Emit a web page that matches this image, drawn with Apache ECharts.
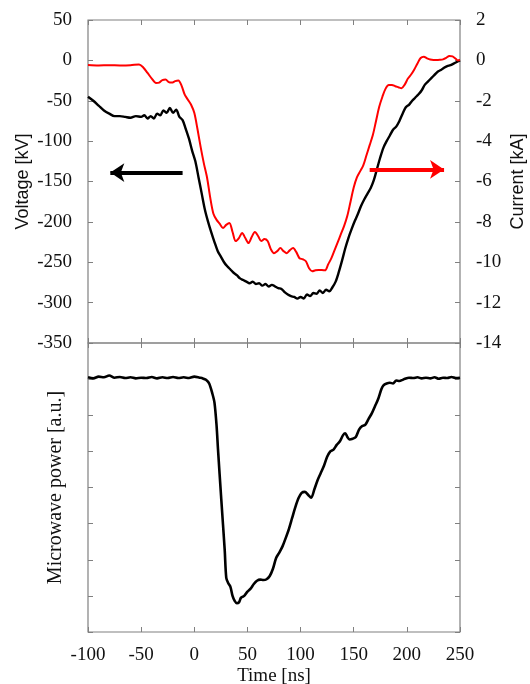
<!DOCTYPE html>
<html>
<head>
<meta charset="utf-8">
<script src="https://cdn.jsdelivr.net/npm/echarts@6/dist/echarts.min.js"></script>
<style>html,body{margin:0;padding:0;background:#fff}#c{width:530px;height:684px}</style>
</head>
<body>
<div id="c"></div>
<script>
// Time axis ticks
var timeTicks = [-100, -50, 0, 50, 100, 150, 200, 250];

// Voltage [kV] (black), time in ns
var voltageT = [-100,-95,-90,-85,-80,-75,-70,-65,-60,-55,-50,-47,-44,-41,-38,-35,-32,-29,-26,-23,-20,-17,-14,-11,-8,-5,-2,1,4,7,10,13,16,19,22,25,28,31,34,37,40,43,46,49,52,55,58,61,64,67,70,73,76,79,82,85,88,91,94,97,100,103,106,109,112,115,118,121,124,127,130,133,136,139,142,145,148,151,154,157,160,163,166,169,172,175,178,181,184,187,190,193,196,199,202,205,208,211,214,217,220,223,226,229,232,235,238,241,244,247,250];
var voltageV = [-45,-50,-56,-62,-66,-69,-69,-70,-71,-69,-70,-68,-72,-69,-72,-66,-68,-62,-65,-59,-65,-61,-70,-74,-85,-97,-112,-125,-145,-165,-185,-200,-213,-225,-236,-243,-250,-255,-259,-263,-266,-270,-272,-274,-276,-274,-277,-276,-279,-277,-280,-278,-280,-282,-283,-287,-290,-292,-293,-295,-293,-295,-290,-292,-288,-289,-285,-288,-284,-286,-281,-274,-262,-248,-233,-220,-209,-199,-190,-180,-172,-165,-158,-148,-134,-120,-108,-100,-93,-86,-82,-75,-66,-58,-55,-50,-46,-42,-37,-30,-26,-22,-18,-14,-12,-9,-7,-6,-4,-2,0];

// Current [kA] (red)
var currentT = [-100,-90,-80,-70,-60,-52,-48,-44,-40,-36,-33,-30,-27,-24,-21,-18,-15,-12,-9,-6,-3,0,3,6,9,12,15,18,21,24,27,30,33,36,39,42,45,48,51,54,57,60,63,66,69,72,75,78,81,84,87,90,93,96,99,102,105,108,111,114,117,120,123,126,129,132,135,138,141,144,147,150,153,156,159,162,165,168,171,174,177,180,183,186,189,192,195,198,201,204,207,210,213,216,219,222,225,228,231,234,237,240,243,246,248,250];
var currentI = [-0.23,-0.25,-0.24,-0.25,-0.24,-0.2,-0.35,-0.62,-0.9,-1.12,-1.1,-0.98,-0.95,-1.08,-1.1,-1.03,-1.0,-1.25,-1.7,-1.95,-2.2,-2.6,-3.4,-4.3,-5.1,-5.8,-6.8,-7.6,-7.9,-8.1,-8.3,-8.15,-8.05,-8.5,-8.95,-8.8,-8.55,-8.8,-9.05,-8.75,-8.5,-8.7,-8.95,-8.85,-8.95,-9.35,-9.55,-9.45,-9.3,-9.45,-9.55,-9.4,-9.3,-9.5,-9.8,-9.85,-9.95,-10.3,-10.45,-10.4,-10.38,-10.38,-10.4,-10.1,-9.8,-9.4,-9.0,-8.6,-8.2,-7.7,-7.0,-6.3,-5.8,-5.5,-5.2,-4.7,-4.2,-3.7,-3.0,-2.3,-1.8,-1.4,-1.22,-1.22,-1.28,-1.33,-1.38,-1.2,-0.9,-0.7,-0.45,-0.15,0.12,0.18,0.1,0.04,0.02,0.02,0.03,0.05,0.12,0.22,0.2,0.08,0.0,0.02];

// Microwave power [a.u.]
var powerT = [-100,-95,-90,-85,-80,-75,-70,-65,-60,-55,-50,-45,-40,-35,-30,-25,-20,-15,-10,-5,0,5,8,11,14,17,19,21,22.3,25.4,28.6,30.1,32,34,36,38,40,42,44,47,50,53,56,59,62,65,68,71,74,77,80,83,86,89,92,95,98,101,104,107,110,113,116,119,122,125,128,131,134,137,140,142,144,146,149,152,155,158,161,164,167,170,173,176,178,181,184,187,190,193,196,199,202,206,210,214,218,222,226,230,234,238,242,246,250];
var powerP = [7.05,7.02,7.07,7.05,7.1,7.04,7.06,7.03,7.05,7.02,7.04,7.03,7.06,7.02,7.05,7.03,7.06,7.03,7.05,7.03,7.07,7.04,7.02,6.98,6.88,6.6,6.35,5.7,5.06,3.67,2.28,1.5,1.35,1.25,1.0,0.86,0.8,0.82,0.95,1.0,1.12,1.2,1.33,1.42,1.45,1.44,1.46,1.55,1.75,2.05,2.2,2.37,2.6,2.85,3.15,3.45,3.7,3.85,3.88,3.8,3.72,3.95,4.2,4.4,4.6,4.85,5.0,5.05,5.18,5.28,5.45,5.5,5.4,5.33,5.35,5.4,5.6,5.7,5.74,5.9,6.05,6.25,6.45,6.72,6.83,6.88,6.9,6.88,6.96,6.95,6.98,7.02,7.04,7.03,7.05,7.02,7.04,7.02,7.05,7.01,7.04,7.03,7.06,7.03,7.04];

// Arrows: [time, value] start and end
var voltArrow = [[-11, -139], [-79, -139]];
var currArrow = [[165, -5.4], [235, -5.4]];

function pairs(xs, ys) { return xs.map(function (x, i) { return [x, ys[i]]; }); }

var frame = '#808080';
var serif = '"Liberation Serif", "Times New Roman", serif';
var sans = '"Liberation Sans", Arial, sans-serif';
var tickLab = { fontFamily: serif, fontSize: 19, color: '#111' };

function xAx(grid, pos, labels, extra) {
  var a = {
    type: 'value', gridIndex: grid, position: pos, min: -100, max: 250, interval: 50,
    axisLine: { show: false, onZero: false },
    axisTick: { show: true, inside: true, length: 5, lineStyle: { color: frame, width: 1 } },
    axisLabel: labels ? Object.assign({ margin: 14 }, tickLab) : { show: false },
    splitLine: { show: false }
  };
  return Object.assign(a, extra || {});
}
function yAx(grid, pos, min, max, interval, labels, extra) {
  var a = {
    type: 'value', gridIndex: grid, position: pos, min: min, max: max, interval: interval,
    axisLine: { show: false, onZero: false },
    axisTick: { show: true, inside: true, length: 5, lineStyle: { color: frame, width: 1 } },
    axisLabel: labels ? Object.assign({ margin: 16 }, tickLab) : { show: false },
    splitLine: { show: false }
  };
  return Object.assign(a, extra || {});
}

var chart = echarts.init(document.getElementById('c'), null, { renderer: 'canvas' });
chart.setOption({
  animation: false,
  backgroundColor: '#fff',
  grid: [
    { left: 88, right: 70, top: 20, height: 323, show: true, borderColor: frame, borderWidth: 1.2, backgroundColor: 'transparent', containLabel: false, outerBoundsMode: 'none' },
    { left: 88, right: 70, top: 343, height: 289, show: true, borderColor: frame, borderWidth: 1.2, backgroundColor: 'transparent', containLabel: false, outerBoundsMode: 'none' }
  ],
  xAxis: [
    xAx(0, 'bottom', false),
    xAx(0, 'top', false),
    xAx(1, 'bottom', true, {
      name: 'Time [ns]', nameLocation: 'middle', nameGap: 35, nameMoveOverlap: false,
      nameTextStyle: { fontFamily: serif, fontSize: 19, color: '#111' }
    }),
    xAx(1, 'top', false)
  ],
  yAxis: [
    yAx(0, 'left', -350, 50, 50, true, {
      name: 'Voltage [kV]', nameLocation: 'middle', nameGap: 56, nameRotate: 90, nameMoveOverlap: false,
      nameTextStyle: { fontFamily: sans, fontSize: 18, color: '#111' }
    }),
    yAx(0, 'right', -14, 2, 2, true, {
      name: 'Current [kA]', nameLocation: 'middle', nameGap: 49, nameRotate: 90, nameMoveOverlap: false,
      nameTextStyle: { fontFamily: sans, fontSize: 18, color: '#111' }
    }),
    yAx(1, 'left', 0, 8, 1, false, {
      name: 'Microwave power [a.u.]', nameLocation: 'middle', nameGap: 22, nameRotate: 90, nameMoveOverlap: false,
      nameTextStyle: { fontFamily: serif, fontSize: 20, color: '#111' }
    }),
    yAx(1, 'right', 0, 8, 1, false)
  ],
  series: [
    {
      name: 'Voltage', type: 'line', xAxisIndex: 0, yAxisIndex: 0, showSymbol: false, smooth: 0.3,
      data: pairs(voltageT, voltageV), lineStyle: { color: '#000', width: 2.4 }, itemStyle: { color: '#000' },
      markLine: {
        silent: true, symbol: ['none', 'arrow'], symbolSize: 14, label: { show: false },
        lineStyle: { color: '#000', width: 4, type: 'solid' },
        data: [[{ coord: voltArrow[0] }, { coord: voltArrow[1] }]]
      }
    },
    {
      name: 'Current', type: 'line', xAxisIndex: 0, yAxisIndex: 1, showSymbol: false, smooth: 0.3,
      data: pairs(currentT, currentI), lineStyle: { color: '#ff0000', width: 2 }, itemStyle: { color: '#ff0000' },
      markLine: {
        silent: true, symbol: ['none', 'arrow'], symbolSize: 14, label: { show: false },
        lineStyle: { color: '#ff0000', width: 4, type: 'solid' },
        data: [[{ coord: currArrow[0] }, { coord: currArrow[1] }]]
      }
    },
    {
      name: 'Microwave power', type: 'line', xAxisIndex: 2, yAxisIndex: 2, showSymbol: false, smooth: 0.3,
      data: pairs(powerT, powerP), lineStyle: { color: '#000', width: 2.6 }, itemStyle: { color: '#000' }
    }
  ]
});
</script>
</body>
</html>
